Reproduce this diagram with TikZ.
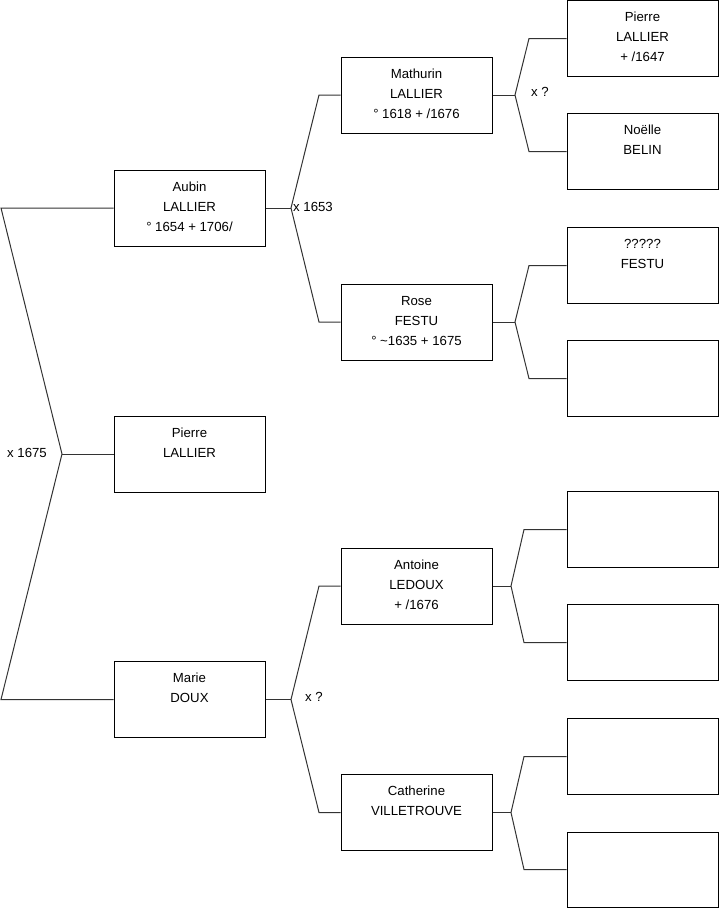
\documentclass[tikz,border=0pt]{standalone}
\usepackage{fontspec}
\setmainfont{Liberation Sans}
\begin{document}
\begin{tikzpicture}[x=1pt,y=-1pt,
  box/.style={draw=black,line width=1pt,minimum width=151pt,minimum height=76pt,inner sep=0pt},
  txt/.style={anchor=north,inner sep=0pt,align=center,font=\fontsize{13.2}{20}\selectfont,yshift=-7.7pt},
  lbl/.style={inner sep=0pt,font=\fontsize{13.2}{20}\selectfont},
  conn/.style={draw=black!80,line width=1pt}]
\useasboundingbox (0,0) rectangle (719,908);
% boxes
\node[box] (aubin) at (189.5,208) {};
\node[box] (pierre) at (189.5,454) {};
\node[box] (marie) at (189.5,699.5) {};
\node[box] (mathurin) at (416.5,95) {};
\node[box] (rose) at (416.5,322) {};
\node[box] (antoine) at (416.5,586) {};
\node[box] (catherine) at (416.5,812.5) {};
\node[box] (r1) at (642.5,38.5) {};
\node[box] (r2) at (642.5,151.5) {};
\node[box] (r3) at (642.5,265.5) {};
\node[box] (r4) at (642.5,378.5) {};
\node[box] (r5) at (642.5,529.5) {};
\node[box] (r6) at (642.5,642.5) {};
\node[box] (r7) at (642.5,756.5) {};
\node[box,minimum height=75pt] (r8) at (642.5,869.5) {};
% texts
\node[txt] (taubin) at (aubin.north) {\strut Aubin\\LALLIER\\° 1654 + 1706/};
\node[txt] (tpierre) at (pierre.north) {\strut Pierre\\LALLIER};
\node[txt] (tmarie) at (marie.north) {\strut Marie\\DOUX};
\node[txt] (tmathurin) at (mathurin.north) {\strut Mathurin\\LALLIER\\° 1618 + /1676};
\node[txt] (trose) at (rose.north) {\strut Rose\\FESTU\\° \textasciitilde1635 + 1675};
\node[txt] (tantoine) at (antoine.north) {\strut Antoine\\LEDOUX\\ + /1676};
\node[txt] (tcatherine) at (catherine.north) {\strut Catherine\\VILLETROUVE};
\node[txt,yshift=0.5pt] (tr1) at (r1.north) {\strut Pierre\\LALLIER\\ + /1647};
\node[txt] (tr2) at (r2.north) {\strut Noëlle\\BELIN};
\node[txt] (tr3) at (r3.north) {\strut ?????\\FESTU};
% coordinates
\coordinate (L1) at (1,208);
\coordinate (V0) at (62,454);
\coordinate (L3) at (1,699.5);
\coordinate (Va) at (291,208);
\coordinate (Va1) at (319,95);
\coordinate (Va2) at (319,322);
\coordinate (Vm) at (515,95);
\coordinate (Vm1) at (529,38.5);
\coordinate (Vm2) at (529,151.5);
\coordinate (Vr) at (515,322);
\coordinate (Vr1) at (529,265.5);
\coordinate (Vr2) at (529,378.5);
\coordinate (Vd) at (291,699.5);
\coordinate (Vd1) at (319,586);
\coordinate (Vd2) at (319,812.5);
\coordinate (Vn) at (511,586);
\coordinate (Vn1) at (524,529.5);
\coordinate (Vn2) at (524,642.5);
\coordinate (Vc) at (511,812.5);
\coordinate (Vc1) at (524,756.5);
\coordinate (Vc2) at (524,869.5);
% connectors
\draw[conn] (aubin.west) -- (L1) -- (V0) -- (L3) -- (marie.west);
\draw[conn] (V0) -- (pierre.west);
\draw[conn] (mathurin.west) -- (Va1) -- (Va) -- (Va2) -- (rose.west);
\draw[conn] (aubin.east) -- (Va);
\draw[conn] (r1.west) -- (Vm1) -- (Vm) -- (Vm2) -- (r2.west);
\draw[conn] (mathurin.east) -- (Vm);
\draw[conn] (r3.west) -- (Vr1) -- (Vr) -- (Vr2) -- (r4.west);
\draw[conn] (rose.east) -- (Vr);
\draw[conn] (antoine.west) -- (Vd1) -- (Vd) -- (Vd2) -- (catherine.west);
\draw[conn] (marie.east) -- (Vd);
\draw[conn] (r5.west) -- (Vn1) -- (Vn) -- (Vn2) -- (r6.west);
\draw[conn] (antoine.east) -- (Vn);
\draw[conn] (r7.west) -- (Vc1) -- (Vc) -- (Vc2) -- (r8.west);
\draw[conn] (catherine.east) -- (Vc);
% labels
\node[lbl,anchor=base west] (x1675) at (7,457) {x 1675};
\node[lbl,anchor=base west] (x1653) at (293,211) {x 1653};
\node[lbl,anchor=base west] (xq1) at (531,96.5) {x ?};
\node[lbl,anchor=base west] (xq2) at (305,701.5) {x ?};
\end{tikzpicture}
\end{document}
